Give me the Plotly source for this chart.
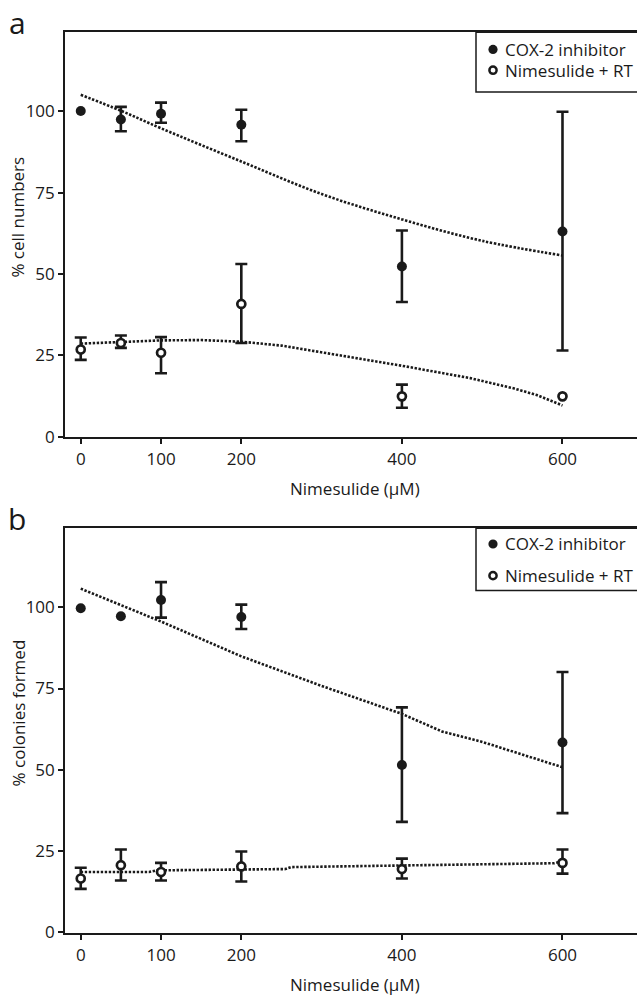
import numpy as np
import plotly.graph_objects as go

# ---------------- data ----------------
doses = [0, 50, 100, 200, 400, 600]
x_ticks = [0, 100, 200, 400, 600]
y_ticks = [0, 25, 50, 75, 100]

# panel a: % cell numbers  (None = no error bar shown)
a_cox = [100.1, 97.5, 99.3, 95.9, 52.3, 63.1]
a_cox_up = [None, 3.9, 3.4, 4.6, 11.1, 36.8]
a_cox_dn = [None, 3.6, 2.8, 5.1, 10.9, 36.6]
a_rt = [26.8, 28.8, 25.8, 40.8, 12.4, 12.4]
a_rt_up = [3.7, 2.3, 4.8, 12.3, 3.6, None]
a_rt_dn = [3.2, 1.5, 6.3, 12.0, 3.5, None]
a_cox_fit_x = [0, 50, 100, 200, 300, 400, 500, 600]
a_cox_fit_y = [105.1, 100.2, 94.8, 84.6, 74.6, 66.8, 60.2, 55.7]
a_rt_fit_x = [0, 50, 100, 150, 200, 250, 310, 400, 485, 540, 568, 600]
a_rt_fit_y = [28.6, 29.2, 29.6, 29.7, 29.2, 28.0, 25.6, 21.8, 18.0, 14.8, 12.8, 9.6]

# panel b: % colonies formed
b_cox = [99.7, 97.2, 102.2, 97.0, 51.5, 58.4]
b_cox_up = [None, None, 5.5, 3.8, 17.7, 21.7]
b_cox_dn = [None, None, 5.4, 3.7, 17.5, 21.7]
b_rt = [16.6, 20.7, 18.6, 20.3, 19.5, 21.4]
b_rt_up = [3.3, 4.8, 2.8, 4.6, 3.2, 4.1]
b_rt_dn = [3.2, 4.7, 2.6, 4.6, 2.9, 3.3]
b_cox_fit_x = [0, 100, 200, 300, 400, 450, 500, 600]
b_cox_fit_y = [105.7, 95.6, 84.9, 75.8, 67.2, 61.8, 58.6, 50.8]
b_rt_fit_x = [0, 85, 95, 255, 262, 320, 400, 590, 600]
b_rt_fit_y = [18.6, 18.6, 19.1, 19.5, 20.1, 20.3, 20.7, 21.3, 21.9]

names = ["COX-2 inhibitor", "Nimesulide + RT"]
panel_labels = ["a", "b"]
y_titles = ["% cell numbers", "% colonies formed"]
x_title = "Nimesulide (\u00b5M)"

# ---------------- styling / layout ----------------
W, H = 637, 1007
INK = "#1a1a1a"
FONT = "Open Sans"
DOTS = "2.4px,1.6px"


def py(p):
    return 1 - p / H


def px(p):
    return p / W


def err(vals):
    # missing errors -> NaN so that no bar (and no cross-bar) is drawn
    return np.array([np.nan if v is None else v for v in vals], dtype=float)


fig = go.Figure()


def add_panel(idx, cox, cox_up, cox_dn, rt, rt_up, rt_dn, cfx, cfy, rfx, rfy, cshape, rshape):
    xa = "x" if idx == 1 else f"x{idx}"
    ya = "y" if idx == 1 else f"y{idx}"
    fig.add_trace(go.Scatter(x=cfx, y=cfy, mode="lines", xaxis=xa, yaxis=ya,
                             line=dict(color=INK, width=2.6, dash=DOTS, shape=cshape),
                             showlegend=False, hoverinfo="skip"))
    fig.add_trace(go.Scatter(x=rfx, y=rfy, mode="lines", xaxis=xa, yaxis=ya,
                             line=dict(color=INK, width=2.6, dash=DOTS, shape=rshape),
                             showlegend=False, hoverinfo="skip"))
    fig.add_trace(go.Scatter(
        x=doses, y=cox, mode="markers", name=names[0], xaxis=xa, yaxis=ya, showlegend=False,
        marker=dict(symbol="circle", size=10, color=INK),
        error_y=dict(type="data", array=err(cox_up), arrayminus=err(cox_dn), symmetric=False,
                     thickness=2.6, width=6, color=INK)))
    fig.add_trace(go.Scatter(
        x=doses, y=rt, mode="markers", name=names[1], xaxis=xa, yaxis=ya, showlegend=False,
        marker=dict(symbol="circle", size=8, color="white", line=dict(color=INK, width=2.7)),
        error_y=dict(type="data", array=err(rt_up), arrayminus=err(rt_dn), symmetric=False,
                     thickness=2.6, width=6, color=INK)))


add_panel(1, a_cox, a_cox_up, a_cox_dn, a_rt, a_rt_up, a_rt_dn,
          a_cox_fit_x, a_cox_fit_y, a_rt_fit_x, a_rt_fit_y, "spline", "linear")
add_panel(2, b_cox, b_cox_up, b_cox_dn, b_rt, b_rt_up, b_rt_dn,
          b_cox_fit_x, b_cox_fit_y, b_rt_fit_x, b_rt_fit_y, "linear", "linear")

tickfont = dict(family=FONT, size=17, color=INK)
xcommon = dict(range=[-19.6, 692.8], tickvals=x_ticks, ticks="outside", ticklen=6, tickwidth=1.5,
               tickcolor=INK, showline=True, linewidth=1.6, linecolor=INK, mirror=True,
               showgrid=False, zeroline=False, tickfont=tickfont, fixedrange=True)
ycommon = dict(range=[0, 124.3], tickvals=y_ticks, ticks="outside", ticklen=5, tickwidth=1.5,
               tickcolor=INK, showline=True, linewidth=1.6, linecolor=INK, mirror=False,
               showgrid=False, zeroline=False, tickfont=tickfont, fixedrange=True)

panels = [(441.5, 32.7), (942.8, 534.0)]
# legend geometry (pixels): box top/bottom, row centres
legends = [dict(top=32.7, bottom=93, rows=(50, 71)),
           dict(top=534.0, bottom=597, rows=(550, 582))]

annotations = []
shapes = []
for i, (bot, top) in enumerate(panels):
    dy = i * 501.3
    annotations.append(dict(text=panel_labels[i], x=px(17), y=py(top - 10), xref="paper", yref="paper",
                            xanchor="center", yanchor="middle", showarrow=False,
                            font=dict(family=FONT, size=30, color=INK)))
    annotations.append(dict(text=y_titles[i], x=px(18), y=py(220 + dy), xref="paper", yref="paper",
                            xanchor="center", yanchor="middle", textangle=-90, showarrow=False,
                            font=dict(family=FONT, size=17, color=INK)))
    annotations.append(dict(text=x_title, x=px(355), y=py(494 + dy), xref="paper", yref="paper",
                            xanchor="center", yanchor="middle", showarrow=False,
                            font=dict(family=FONT, size=17, color=INK)))
    lg = legends[i]
    shapes.append(dict(type="rect", xref="paper", yref="paper", x0=px(476), x1=px(645),
                       y0=py(lg["bottom"]), y1=py(lg["top"]), fillcolor="white",
                       line=dict(color=INK, width=1.5), layer="above"))
    for j, row in enumerate(lg["rows"]):
        if j == 0:
            shapes.append(dict(type="circle", xref="paper", yref="paper",
                               xsizemode="pixel", ysizemode="pixel",
                               xanchor=px(493), yanchor=py(row), x0=-4.6, x1=4.6, y0=-4.6, y1=4.6,
                               fillcolor=INK, line=dict(width=0), layer="above"))
        else:
            shapes.append(dict(type="circle", xref="paper", yref="paper",
                               xsizemode="pixel", ysizemode="pixel",
                               xanchor=px(493), yanchor=py(row), x0=-3.6, x1=3.6, y0=-3.6, y1=3.6,
                               fillcolor="white", line=dict(color=INK, width=2.5), layer="above"))
        annotations.append(dict(text=names[j], x=px(503), y=py(row), xref="paper", yref="paper",
                                xanchor="left", yanchor="middle", showarrow=False,
                                font=dict(family=FONT, size=17, color=INK)))

fig.update_layout(
    width=W, height=H, margin=dict(l=0, r=0, t=0, b=0),
    paper_bgcolor="white", plot_bgcolor="white",
    font=dict(family=FONT, color=INK),
    xaxis=dict(domain=[px(65), 1], anchor="y", **xcommon),
    yaxis=dict(domain=[py(panels[0][0]), py(panels[0][1])], anchor="x", **ycommon),
    xaxis2=dict(domain=[px(65), 1], anchor="y2", **xcommon),
    yaxis2=dict(domain=[py(panels[1][0]), py(panels[1][1])], anchor="x2", **ycommon),
    annotations=annotations,
    shapes=shapes,
    showlegend=False,
)

fig.write_html(
    "out.html",
    config={"displayModeBar": False},
    post_script="document.body.style.margin='0';document.body.style.overflow='hidden';",
)
